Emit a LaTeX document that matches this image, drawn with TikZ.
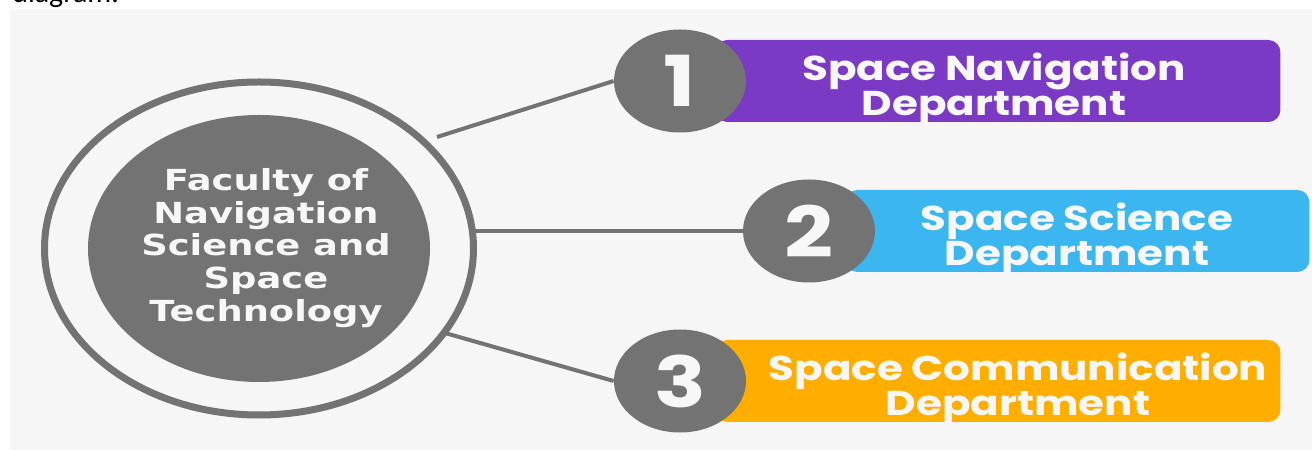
\documentclass[tikz,border=0pt]{standalone}
\usepackage{fontspec}
\usetikzlibrary{shapes.geometric}
\newfontfamily\deptfont{Poppins}[FakeStretch=1.22]
\newfontfamily\facfont{DejaVu Sans}[FakeStretch=1.27]
\newfontfamily\topfont{Carlito}
\definecolor{fond}{HTML}{F6F6F6}
\definecolor{gris}{HTML}{737373}
\definecolor{violet}{HTML}{7B3AC4}
\definecolor{bleu}{HTML}{3BB6EF}
\definecolor{orange}{HTML}{FFAE00}
\definecolor{blanc}{HTML}{F7F7F7}
\begin{document}
\begin{tikzpicture}[x=0.2mm, y=-0.2mm]
\tikzset{boite/.style={rounded corners=2.4mm, minimum height=16.4mm, inner sep=0pt},
  numnoeud/.style={ellipse, fill=gris, minimum width=26.4mm, minimum height=20.6mm, inner sep=0pt,
    text=blanc, font=\deptfont\bfseries\fontsize{40}{40}\selectfont},
  texte/.style={text=blanc, align=center, font=\deptfont\bfseries\fontsize{19.6}{18.7}\selectfont},
  lien/.style={draw=gris, line width=0.8mm}}
\useasboundingbox (0, 0) rectangle (1312, 450);
\fill[white] (0, 0) rectangle (1312, 450);
\fill[fond] (10, 9) rectangle (1312, 450);
\node[anchor=base west, font=\topfont\fontsize{17}{17}\selectfont, inner sep=0pt] (T) at (12, 3) {diagram.};
% centre
\node[ellipse, draw=gris, line width=1.4mm, minimum width=85.8mm, minimum height=66.6mm, inner sep=0pt] (R) at (259, 248.5) {};
\node[ellipse, fill=gris, minimum width=68.4mm, minimum height=53.4mm, inner sep=0pt] (F) at (259, 248.5) {};
\node[text=blanc, align=center, font=\facfont\bfseries\fontsize{16.5}{18.7}\selectfont] (FT) at (266, 248)
  {Faculty of\\Navigation\\Science and\\Space\\Technology};
% boites
\node[boite, fill=violet, minimum width=113mm, anchor=west] (B1) at (715, 81) {};
\node[boite, fill=bleu, minimum width=92.8mm, anchor=west] (B2) at (845, 231) {};
\node[boite, fill=orange, minimum width=113mm, anchor=west] (B3) at (715, 381) {};
\node[texte] (T1) at (994, 89) {Space Navigation\\Department};
\node[texte] (T2) at (1077, 239) {Space Science\\Department};
\node[texte] (T3) at (1018, 389) {Space Communication\\Department};
% liens
\coordinate (S1) at (437, 137);
\coordinate (S2) at (473, 231);
\coordinate (S3) at (445, 333);
\node[numnoeud] (C1) at (680, 81) {1};
\node[numnoeud] (C2) at (809, 231) {2};
\node[numnoeud] (C3) at (680, 381) {3};
\draw[lien] (S1) -- (C1.west);
\draw[lien] (S2) -- (C2.west);
\draw[lien] (S3) -- (C3.west);
\end{tikzpicture}
\end{document}
